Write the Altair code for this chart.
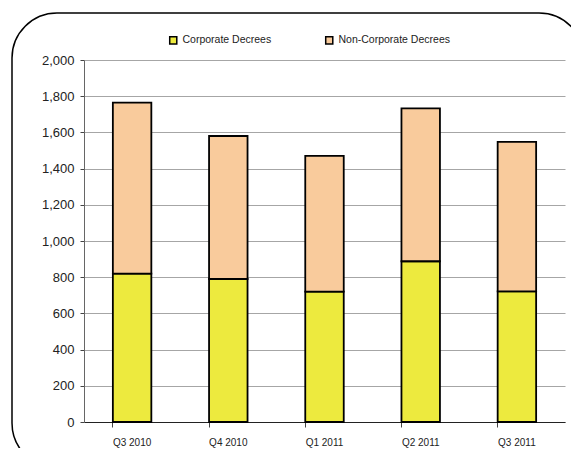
import altair as alt
import pandas as pd

quarters = ["Q3 2010", "Q4 2010", "Q1 2011", "Q2 2011", "Q3 2011"]
corporate = [820, 790, 720, 888, 722]
non_corporate = [945, 790, 750, 845, 826]
series = ["Corporate Decrees", "Non-Corporate Decrees"]
colors = ["#EDEA3E", "#F9CB9C"]
y_ticks = [0, 200, 400, 600, 800, 1000, 1200, 1400, 1600, 1800, 2000]

rows = []
for q, c, n in zip(quarters, corporate, non_corporate):
    rows.append({"quarter": q, "series": series[0], "value": c, "ord": 0})
    rows.append({"quarter": q, "series": series[1], "value": n, "ord": 1})
df = pd.DataFrame(rows)

font = "Liberation Sans"

border = alt.Chart(pd.DataFrame({"a": [0]})).mark_rect(
    filled=False, stroke="black", strokeWidth=1.5, cornerRadius=45, clip=False
).encode(
    x=alt.value(-72), x2=alt.value(500), y=alt.value(-47), y2=alt.value(408)
)

bars = alt.Chart(df).mark_bar(stroke="black", strokeWidth=1.8).encode(
    x=alt.X("quarter:N", sort=quarters, title=None,
            scale=alt.Scale(paddingInner=0.6, paddingOuter=0.3),
            axis=alt.Axis(labelAngle=0, labelFontSize=10, labelFont=font,
                          labelColor="#222", bandPosition=0, ticks=True,
                          tickColor="#444", tickSize=5, domainColor="#222",
                          labelPadding=10, grid=False)),
    y=alt.Y("value:Q", stack="zero", title=None,
            scale=alt.Scale(domain=[0, 2000], nice=False),
            axis=alt.Axis(values=y_ticks, format=",.0f", labelFontSize=13,
                          labelFont=font, labelColor="#222", tickColor="#444",
                          tickSize=4, domainColor="#666", gridColor="#a6a6a6",
                          labelPadding=6)),
    color=alt.Color("series:N", sort=series,
                    scale=alt.Scale(domain=series, range=colors),
                    legend=alt.Legend(orient="none", legendX=84, legendY=-25,
                                      direction="horizontal", title=None,
                                      symbolType="square", symbolSize=50,
                                      symbolStrokeColor="black",
                                      symbolStrokeWidth=1.5,
                                      labelFont=font, labelFontSize=10.5,
                                      columnPadding=50, labelColor="#222")),
    order=alt.Order("ord:Q"),
)

chart = alt.layer(border, bars).properties(
    width=481, height=362,
    autosize=alt.AutoSizeParams(type="none"),
    padding={"left": 76, "top": 52, "right": 6, "bottom": 26},
).configure_view(stroke=None).configure_axisX(
    domainWidth=1.2
)

chart.save("out.html", embed_options={"renderer": "svg", "actions": False})
